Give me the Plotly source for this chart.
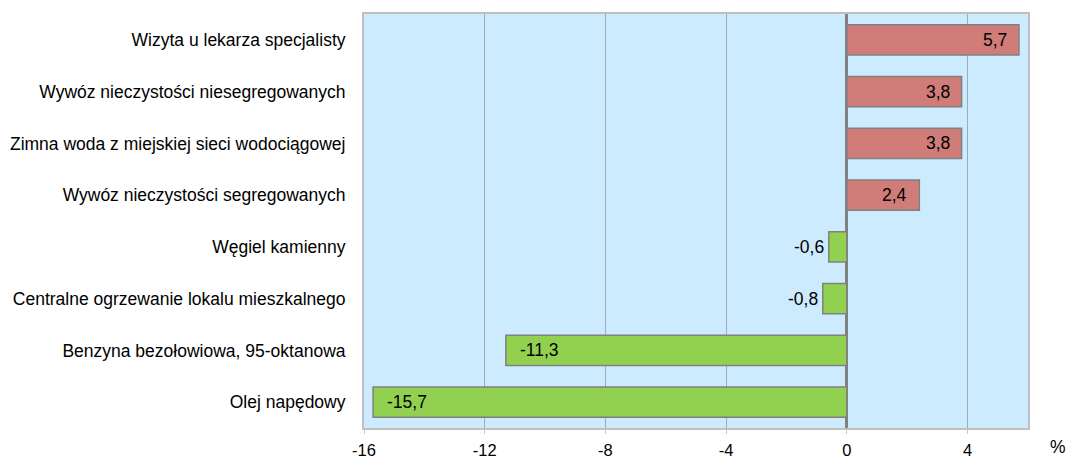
import plotly.graph_objects as go

categories = [
    "Wizyta u lekarza specjalisty",
    "Wywóz nieczystości niesegregowanych",
    "Zimna woda z miejskiej sieci wodociągowej",
    "Wywóz nieczystości segregowanych",
    "Węgiel kamienny",
    "Centralne ogrzewanie lokalu mieszkalnego",
    "Benzyna bezołowiowa, 95-oktanowa",
    "Olej napędowy",
]
values = [5.7, 3.8, 3.8, 2.4, -0.6, -0.8, -11.3, -15.7]
tick_vals = [-16, -12, -8, -4, 0, 4]
tick_text = ["-16", "-12", "-8", "-4", "0", "4"]

RED = "#D07C78"
GREEN = "#92D050"
FONT = "Liberation Sans, Arial, sans-serif"
colors = [RED if v >= 0 else GREEN for v in values]

fig = go.Figure()
fig.add_trace(go.Bar(
    x=values, y=categories, orientation="h",
    marker=dict(color=colors, line=dict(color="#808080", width=1.5)),
    hoverinfo="skip",
))

def fmt(v):
    return f"{v:.1f}".replace(".", ",")

for c, v in zip(categories, values):
    if v >= 0:
        fig.add_annotation(x=v, y=c, text=fmt(v), showarrow=False,
                           xanchor="right", xshift=-10)
    elif abs(v) < 2:
        fig.add_annotation(x=v, y=c, text=fmt(v), showarrow=False,
                           xanchor="right", xshift=-3)
    else:
        fig.add_annotation(x=v, y=c, text=fmt(v), showarrow=False,
                           xanchor="left", xshift=12)

fig.add_annotation(xref="paper", yref="paper", x=1.045, y=-0.045,
                   text="%", showarrow=False, xanchor="center", yanchor="middle")

fig.update_layout(
    width=1067, height=462,
    margin=dict(l=364, r=39, t=14, b=34, autoexpand=False),
    paper_bgcolor="white", plot_bgcolor="#CCEBFF",
    font=dict(family=FONT, size=17.5, color="#000000"),
    bargap=0.42, showlegend=False,
)
fig.update_xaxes(
    range=[-16, 6], tickvals=tick_vals, ticktext=tick_text,
    showgrid=True, gridcolor="#9EAAB5", gridwidth=1,
    zeroline=True, zerolinecolor="#808080", zerolinewidth=3,
    showline=True, linecolor="#C0C0C0", linewidth=2, mirror=True,
    ticks="outside", ticklen=4, tickcolor="#C8C8C8", ticklabelstandoff=2,
    tickfont=dict(size=16.5),
)
fig.update_yaxes(
    autorange="reversed", showgrid=False,
    showline=True, linecolor="#C0C0C0", linewidth=2, mirror=True,
    ticks="", ticklabelstandoff=13,
)

fig.write_html("out.html", config={"displayModeBar": False},
               post_script="document.body.style.margin='0';document.body.style.overflow='hidden';")
